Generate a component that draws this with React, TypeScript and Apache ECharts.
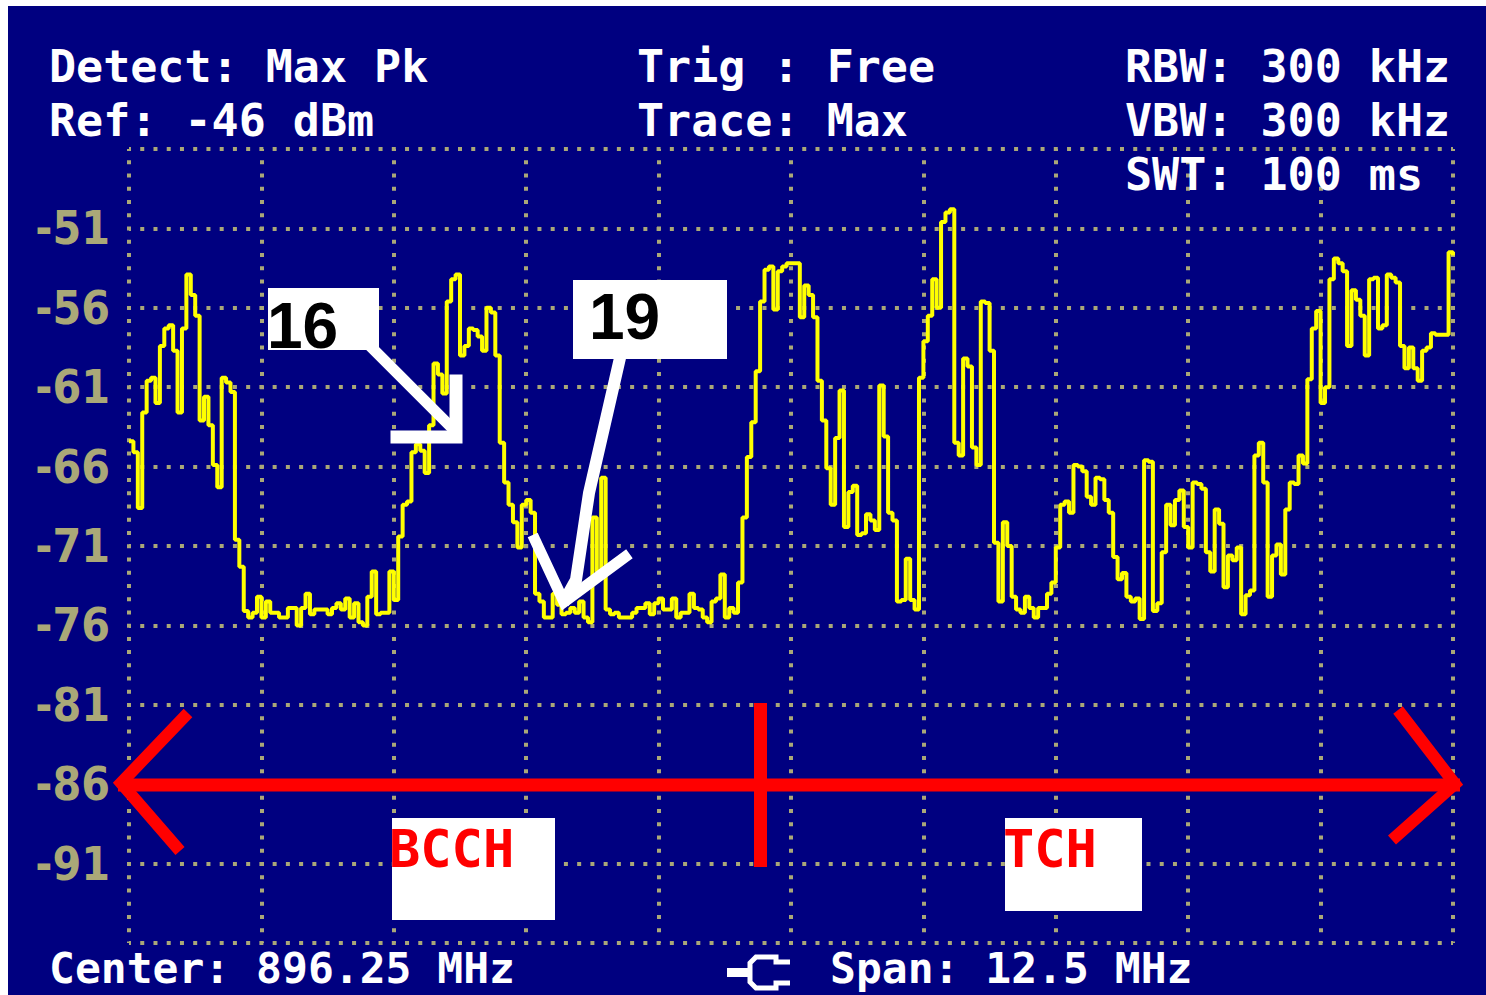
import React, { useEffect, useRef } from "react";
import * as echarts from "echarts";

// ---- data ----
const FREQ_START_MHZ = 890;
const SPAN_MHZ = 12.5;
const X_INTERVAL = 1.25;
const Y_MIN = -96;
const Y_MAX = -46;
const Y_INTERVAL = 5;
const Y_TICK_LABELS = [-51, -56, -61, -66, -71, -76, -81, -86, -91];

// Max-hold trace, 301 sweep points (dBm)
const TRACE_DBM = [
  -64.4, -65.1, -68.6, -62.6, -60.6, -60.4, -62.0, -58.4, -57.3, -57.1,
  -58.7, -62.6, -57.3, -53.9, -55.2, -56.5, -63.1, -61.6, -63.4, -65.9,
  -67.3, -60.4, -60.7, -61.3, -70.6, -72.3, -75.1, -75.5, -75.2, -74.2,
  -75.5, -74.5, -75.2, -75.2, -75.5, -75.5, -74.9, -74.9, -76.0, -74.9,
  -74.0, -75.3, -75.0, -75.0, -75.0, -75.3, -74.9, -74.6, -75.0, -74.3,
  -75.5, -74.6, -75.8, -76.0, -74.2, -72.6, -75.3, -75.2, -75.2, -72.6,
  -74.4, -70.4, -68.4, -68.2, -65.1, -64.6, -65.0, -66.4, -63.4, -59.5,
  -60.2, -61.4, -55.6, -54.2, -53.9, -59.0, -58.4, -57.3, -57.4, -57.8,
  -58.7, -56.0, -56.3, -59.0, -64.5, -67.0, -68.4, -69.5, -71.1, -68.4,
  -68.1, -68.9, -74.0, -74.5, -75.5, -75.5, -74.0, -74.7, -75.3, -75.2,
  -74.9, -75.2, -74.5, -75.5, -75.8, -69.2, -72.6, -66.7, -75.0, -75.3,
  -75.2, -75.5, -75.5, -75.5, -75.2, -74.9, -74.9, -74.6, -75.3, -74.6,
  -74.3, -75.0, -75.0, -74.3, -75.5, -75.2, -75.2, -74.0, -74.9, -75.0,
  -75.5, -75.8, -74.5, -74.3, -72.8, -75.5, -74.9, -75.2, -73.3, -69.2,
  -65.4, -63.2, -60.0, -55.6, -53.6, -53.4, -56.1, -53.7, -53.4, -53.2,
  -53.2, -53.2, -56.6, -54.6, -55.2, -56.6, -60.6, -63.1, -66.1, -68.4,
  -64.2, -61.2, -69.8, -67.6, -67.2, -70.3, -70.2, -69.0, -69.4, -70.0,
  -60.9, -64.1, -68.9, -69.4, -74.5, -74.4, -71.8, -74.4, -75.0, -60.4,
  -58.1, -56.5, -54.2, -56.0, -50.6, -50.0, -49.8, -64.5, -65.3, -59.2,
  -59.7, -64.8, -65.9, -55.6, -55.7, -58.7, -70.8, -74.5, -69.5, -71.0,
  -74.2, -75.0, -75.2, -74.2, -74.9, -75.5, -74.9, -74.9, -74.0, -73.3,
  -71.1, -68.4, -68.2, -68.9, -65.9, -66.0, -66.3, -67.9, -68.4, -66.7,
  -66.8, -68.1, -68.9, -71.7, -73.1, -72.7, -74.2, -74.5, -74.3, -75.6,
  -65.6, -65.7, -75.1, -74.6, -71.4, -68.4, -69.7, -68.1, -67.5, -69.8,
  -71.1, -67.0, -67.1, -67.4, -71.4, -72.6, -68.7, -69.6, -73.6, -71.6,
  -71.9, -71.1, -75.3, -74.1, -73.8, -65.3, -64.5, -67.0, -74.2, -71.6,
  -70.9, -72.8, -68.7, -67.0, -67.1, -65.3, -65.8, -60.5, -57.3, -56.2,
  -62.0, -61.0, -54.2, -52.9, -53.2, -53.7, -58.4, -54.9, -55.5, -56.5,
  -59.0, -54.2, -54.1, -57.3, -57.1, -53.9, -54.1, -54.4, -58.4, -59.8,
  -58.5, -59.8, -60.6, -58.7, -58.5, -57.6, -57.7, -57.7, -57.7, -52.5,
  -52.7,
];

const HEADER_TEXTS = [
  "Detect: Max Pk",
  "Ref: -46 dBm",
  "Trig : Free",
  "Trace: Max",
  "RBW: 300 kHz",
  "VBW: 300 kHz",
  "SWT: 100 ms",
];
const FOOTER_TEXTS = ["Center: 896.25 MHz", "Span: 12.5 MHz"];
const MARKER_LABELS = ["16", "19"];
const BAND_LABELS = ["BCCH", "TCH"];

// ---- styles ----
const BG = "#000080";
const GRID_COLOR = "#aaa878";
const TRACE_COLOR = "#ffff00";
const RED = "#ff0000";
const MONO = "'DejaVu Sans Mono', 'Liberation Mono', monospace";

function buildOption() {
  const step = SPAN_MHZ / (TRACE_DBM.length - 1);
  const data = TRACE_DBM.map((v, i) => [FREQ_START_MHZ + i * step, v]);

  const headerText = (text: string, x: number, y: number, size = 45) => ({
    type: "text",
    x,
    y,
    z: 100,
    style: {
      text,
      fill: "#ffffff",
      font: `bold ${size}px ${MONO}`,
      verticalAlign: "middle",
    },
  });

  const redLine = (points: number[][], w: number) => ({
    type: "polyline",
    z: 100,
    shape: { points },
    style: { stroke: RED, lineWidth: w, fill: null, lineJoin: "miter", lineCap: "butt" },
  });
  const whiteLine = (points: number[][], w: number) => ({
    type: "polyline",
    z: 100,
    shape: { points },
    style: { stroke: "#ffffff", lineWidth: w, fill: null, lineJoin: "miter", lineCap: "square" },
  });

  const graphic: any[] = [
    headerText(HEADER_TEXTS[0], 41, 60.5),
    headerText(HEADER_TEXTS[1], 41, 114.5),
    headerText(HEADER_TEXTS[2], 629, 60.5),
    headerText(HEADER_TEXTS[3], 629, 114.5),
    headerText(HEADER_TEXTS[4], 1117, 60.5),
    headerText(HEADER_TEXTS[5], 1117, 114.5),
    headerText(HEADER_TEXTS[6], 1117, 168),
    headerText(FOOTER_TEXTS[0], 41, 962, 43),
    headerText(FOOTER_TEXTS[1], 822, 962, 43),
    // connector icon
    {
      type: "rect",
      z: 100,
      shape: { x: 719, y: 962, width: 24, height: 9 },
      style: { fill: "#ffffff" },
    },
    {
      type: "polyline",
      z: 100,
      shape: {
        points: [
          [782, 956], [768, 956], [768, 951], [748, 951], [742, 957],
          [742, 976], [748, 982], [768, 982], [768, 977], [782, 977],
        ],
      },
      style: { stroke: "#ffffff", lineWidth: 5, fill: null },
    },
    // red band arrow
    redLine([[110, 779], [1452, 779]], 13),
    redLine([[180, 707], [113, 777], [172, 845]], 12),
    redLine([[1390, 704], [1447, 778], [1384, 834]], 12),
    redLine([[752.5, 697], [752.5, 861]], 13),
    // band labels
    { type: "rect", z: 100, shape: { x: 384, y: 812, width: 163, height: 102 }, style: { fill: "#ffffff" } },
    {
      type: "text",
      x: 381,
      y: 842.5,
      z: 101,
      style: { text: BAND_LABELS[0], fill: RED, font: `bold 52px ${MONO}`, verticalAlign: "middle" },
    },
    { type: "rect", z: 100, shape: { x: 997, y: 812, width: 137, height: 93 }, style: { fill: "#ffffff" } },
    {
      type: "text",
      x: 995,
      y: 842.5,
      z: 101,
      style: { text: BAND_LABELS[1], fill: RED, font: `bold 52px ${MONO}`, verticalAlign: "middle" },
    },
    // marker labels
    { type: "rect", z: 100, shape: { x: 260, y: 282, width: 111, height: 62 }, style: { fill: "#ffffff" } },
    {
      type: "text",
      x: 259,
      y: 320,
      z: 101,
      style: {
        text: MARKER_LABELS[0],
        fill: "#000000",
        font: "bold 64px 'Liberation Sans', Arial, sans-serif",
        verticalAlign: "middle",
      },
    },
    { type: "rect", z: 100, shape: { x: 565, y: 274, width: 154, height: 79 }, style: { fill: "#ffffff" } },
    {
      type: "text",
      x: 581,
      y: 311,
      z: 101,
      style: {
        text: MARKER_LABELS[1],
        fill: "#000000",
        font: "bold 64px 'Liberation Sans', Arial, sans-serif",
        verticalAlign: "middle",
      },
    },
    // white arrows
    whiteLine([[366, 344], [444, 422]], 11),
    whiteLine([[389, 431], [448, 431], [448, 375]], 13),
    whiteLine([[612, 352], [581, 487], [568, 574], [558, 592]], 12),
    whiteLine([[527, 534], [556, 596], [617, 551]], 11),
  ];

  const splitStyle = {
    color: GRID_COLOR,
    width: 4,
    type: [4, 9.24],
    dashOffset: 2,
  };

  return {
    animation: false,
    backgroundColor: BG,
    grid: { left: 121, top: 143, width: 1324, height: 794, containLabel: false },
    xAxis: {
      type: "value",
      min: FREQ_START_MHZ,
      max: FREQ_START_MHZ + SPAN_MHZ,
      interval: X_INTERVAL,
      axisLine: { show: false },
      axisTick: { show: false },
      axisLabel: { show: false },
      splitLine: { show: true, showMinLine: true, showMaxLine: true, lineStyle: splitStyle },
    },
    yAxis: {
      type: "value",
      min: Y_MIN,
      max: Y_MAX,
      interval: Y_INTERVAL,
      axisLine: { show: false },
      axisTick: { show: false },
      axisLabel: {
        formatter: (v: number) => (Y_TICK_LABELS.indexOf(Math.round(v)) >= 0 ? String(Math.round(v)) : ""),
        color: GRID_COLOR,
        fontSize: 46,
        fontWeight: "bold",
        fontFamily: "'Liberation Sans Narrow', 'DejaVu Sans Condensed', 'DejaVu Sans Mono', sans-serif",
        margin: 19,
      },
      splitLine: { show: true, showMinLine: true, showMaxLine: true, lineStyle: splitStyle },
    },
    series: [
      {
        type: "line",
        data,
        step: "end",
        symbol: "none",
        silent: true,
        lineStyle: { color: TRACE_COLOR, width: 4 },
        z: 5,
      },
    ],
    graphic,
  };
}

export default function App() {
  const ref = useRef<HTMLDivElement>(null);
  useEffect(() => {
    if (!ref.current) return;
    const chart = echarts.init(ref.current, undefined, { renderer: "svg" });
    chart.setOption(buildOption() as any);
    return () => chart.dispose();
  }, []);
  return (
    <div
      ref={ref}
      style={{ position: "absolute", left: 8, top: 6, width: 1478, height: 989 }}
    />
  );
}
